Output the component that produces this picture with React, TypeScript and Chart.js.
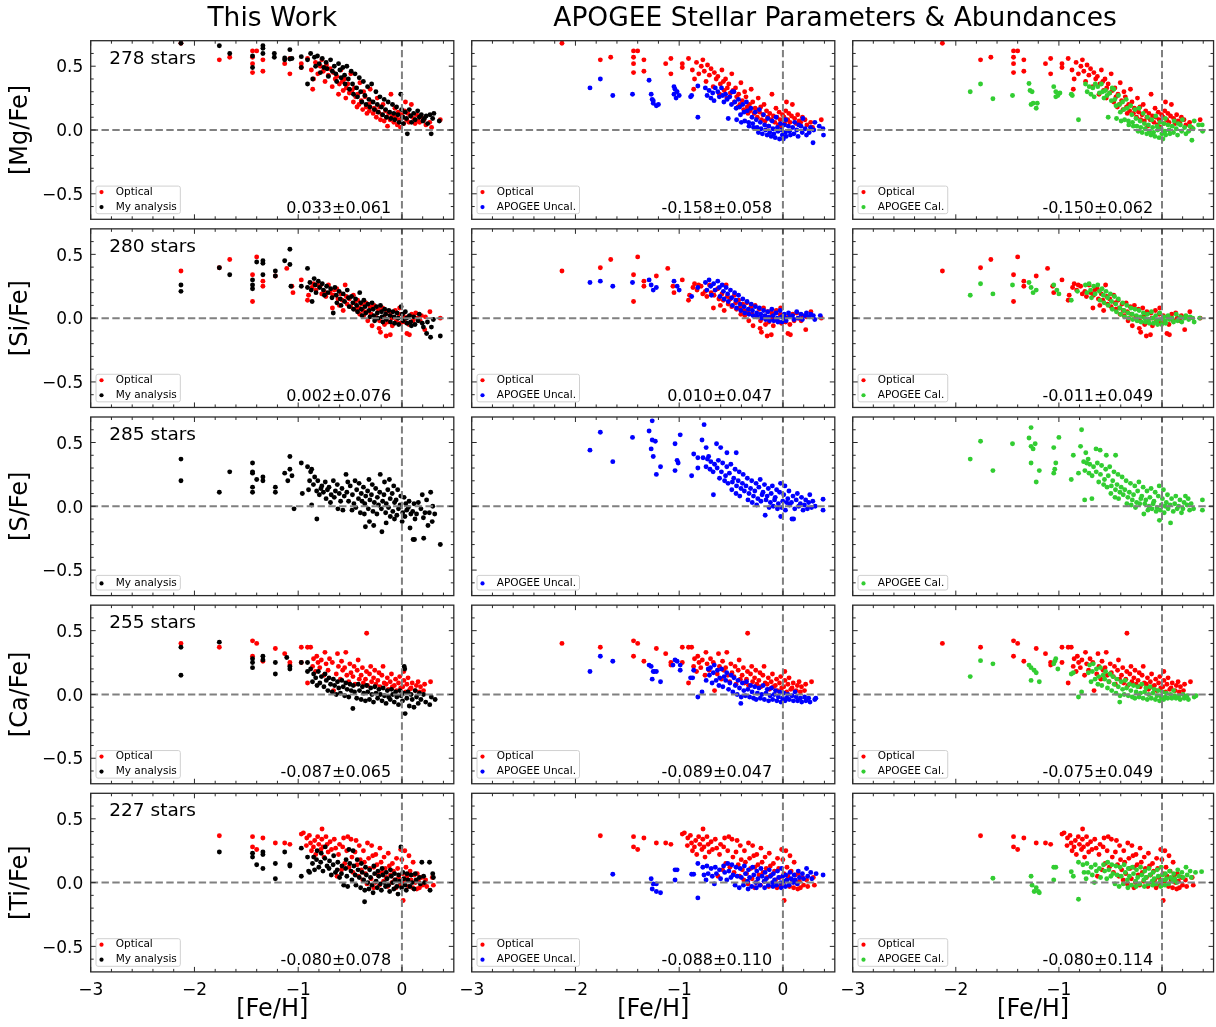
import React, { useEffect, useRef } from "react";
import { Chart, registerables } from "chart.js";
Chart.register(...registerables);

type Pt = [number, number]; // [Fe/H], [X/Fe]

// ---------- tick / label data ----------
const FEH_MAJOR_TICKS = [-3, -2, -1, 0];
const FEH_MINOR_TICKS = [-2.8, -2.6, -2.4, -2.2, -1.8, -1.6, -1.4, -1.2, -0.8, -0.6, -0.4, -0.2, 0.2, 0.4];
const ABUND_MAJOR_TICKS = [-0.5, 0, 0.5];
const ABUND_MINOR_TICKS = [-0.6, -0.4, -0.3, -0.2, -0.1, 0.1, 0.2, 0.3, 0.4, 0.6];
const ELEMENT_LABELS = ["[Mg/Fe]", "[Si/Fe]", "[S/Fe]", "[Ca/Fe]", "[Ti/Fe]"];
const STAR_COUNTS = [278, 280, 285, 255, 227];
const OFFSET_MINE = ["0.033±0.061", "0.002±0.076", "", "-0.087±0.065", "-0.080±0.078"];
const OFFSET_UNCAL = ["-0.158±0.058", "0.010±0.047", "", "-0.089±0.047", "-0.088±0.110"];
const OFFSET_CAL = ["-0.150±0.062", "-0.011±0.049", "", "-0.075±0.049", "-0.080±0.114"];
const COLUMN_TITLES = ["This Work", "APOGEE Stellar Parameters & Abundances"];

// ---------- [Mg/Fe] ----------
const MG_OPTICAL: Pt[] = [[-2.13,0.68],[-1.76,0.55],[-1.66,0.57],[-1.44,0.62],[-1.44,0.57],[-1.44,0.52],[-1.44,0.45],[-1.40,0.62],[-1.34,0.55],[-1.34,0.46],[-1.13,0.52],[-1.08,0.56],[-1.08,0.44],[-0.97,0.52],[-0.97,0.49],[-0.91,0.56],[-0.86,0.32],[-0.873,0.47],[-0.852,0.40],[-0.833,0.53],[-0.811,0.44],[-0.787,0.50],[-0.772,0.55],[-0.758,0.46],[-0.741,0.38],[-0.727,0.51],[-0.709,0.43],[-0.693,0.48],[-0.672,0.34],[-0.661,0.45],[-0.643,0.40],[-0.627,0.42],[-0.611,0.28],[-0.603,0.36],[-0.588,0.47],[-0.574,0.38],[-0.566,0.31],[-0.553,0.40],[-0.541,0.25],[-0.536,0.33],[-0.522,0.36],[-0.507,0.29],[-0.493,0.44],[-0.481,0.31],[-0.468,0.22],[-0.457,0.33],[-0.446,0.26],[-0.433,0.18],[-0.427,0.28],[-0.414,0.20],[-0.405,0.37],[-0.392,0.23],[-0.378,0.16],[-0.369,0.30],[-0.356,0.26],[-0.344,0.18],[-0.337,0.13],[-0.323,0.20],[-0.314,0.15],[-0.306,0.32],[-0.291,0.22],[-0.277,0.13],[-0.268,0.17],[-0.256,0.16],[-0.247,0.10],[-0.238,0.25],[-0.226,0.14],[-0.214,0.18],[-0.207,0.08],[-0.193,0.12],[-0.182,0.20],[-0.171,0.07],[-0.158,0.15],[-0.146,0.10],[-0.139,0.03],[-0.127,0.13],[-0.114,0.08],[-0.106,0.28],[-0.092,0.11],[-0.078,0.06],[-0.067,0.17],[-0.058,0.10],[-0.044,0.04],[-0.036,0.14],[-0.027,0.08],[-0.013,0.02],[-0.004,0.12],[0.011,0.10],[0.018,0.05],[0.027,0.15],[0.034,0.22],[0.046,0.08],[0.057,0.13],[0.068,0.06],[0.083,0.11],[0.091,0.20],[0.113,0.09],[0.127,0.05],[0.142,0.12],[0.156,0.07],[0.171,0.06],[0.188,0.10],[0.213,0.08],[0.231,0.04],[0.268,0.06],[0.286,0.02],[0.37,0.08]];
const MG_MINE: Pt[] = [[-2.13,0.68],[-1.76,0.66],[-1.66,0.60],[-1.44,0.58],[-1.44,0.49],[-1.34,0.66],[-1.34,0.64],[-1.34,0.60],[-1.23,0.60],[-1.23,0.57],[-1.13,0.565],[-1.13,0.55],[-1.08,0.63],[-1.08,0.556],[-1.06,0.56],[-0.97,0.575],[-0.97,0.49],[-0.91,0.55],[-0.91,0.36],[-0.88,0.60],[-0.86,0.40],[-0.843,0.57],[-0.832,0.50],[-0.814,0.58],[-0.797,0.52],[-0.786,0.45],[-0.768,0.56],[-0.753,0.49],[-0.731,0.53],[-0.722,0.48],[-0.709,0.42],[-0.688,0.55],[-0.671,0.46],[-0.652,0.50],[-0.637,0.44],[-0.629,0.38],[-0.611,0.52],[-0.598,0.47],[-0.586,0.41],[-0.569,0.49],[-0.553,0.43],[-0.548,0.36],[-0.531,0.50],[-0.517,0.40],[-0.506,0.32],[-0.489,0.46],[-0.476,0.36],[-0.467,0.28],[-0.452,0.44],[-0.437,0.33],[-0.428,0.26],[-0.411,0.41],[-0.397,0.30],[-0.386,0.22],[-0.372,0.38],[-0.357,0.27],[-0.346,0.20],[-0.331,0.34],[-0.318,0.24],[-0.309,0.18],[-0.292,0.36],[-0.278,0.22],[-0.266,0.16],[-0.251,0.30],[-0.238,0.20],[-0.229,0.14],[-0.212,0.26],[-0.197,0.18],[-0.186,0.12],[-0.171,0.24],[-0.158,0.16],[-0.149,0.10],[-0.133,0.22],[-0.118,0.14],[-0.107,0.09],[-0.091,0.20],[-0.078,0.13],[-0.069,0.08],[-0.052,0.18],[-0.038,0.12],[-0.027,0.06],[-0.011,0.28],[-0.003,0.16],[0.008,0.10],[0.014,0.05],[0.031,0.14],[0.043,0.09],[0.052,-0.03],[0.071,0.16],[0.084,0.11],[0.093,0.06],[0.113,0.13],[0.127,0.08],[0.152,0.15],[0.168,0.10],[0.187,0.12],[0.203,0.07],[0.216,0.09],[0.234,0.11],[0.248,0.05],[0.271,0.12],[0.282,-0.03],[0.296,0.09],[0.308,0.13],[0.36,0.07]];
const MG_UNCAL: Pt[] = [[-1.86,0.33],[-1.76,0.40],[-1.64,0.27],[-1.45,0.28],[-1.29,0.39],[-1.27,0.28],[-1.26,0.24],[-1.25,0.23],[-1.25,0.21],[-1.22,0.19],[-1.20,0.20],[-1.05,0.34],[-1.05,0.28],[-1.04,0.32],[-1.03,0.25],[-1.02,0.30],[-1.00,0.27],[-0.89,0.26],[-0.88,0.27],[-0.82,0.345],[-0.82,0.10],[-0.748,0.33],[-0.731,0.27],[-0.712,0.31],[-0.694,0.25],[-0.677,0.29],[-0.664,0.23],[-0.652,0.33],[-0.628,0.30],[-0.613,0.26],[-0.592,0.33],[-0.581,0.27],[-0.569,0.22],[-0.553,0.28],[-0.538,0.24],[-0.527,0.09],[-0.512,0.26],[-0.496,0.20],[-0.488,0.30],[-0.472,0.30],[-0.463,0.22],[-0.451,0.17],[-0.446,0.08],[-0.428,0.24],[-0.417,0.18],[-0.409,0.12],[-0.401,0.06],[-0.387,0.20],[-0.376,0.14],[-0.368,0.07],[-0.352,0.22],[-0.343,0.15],[-0.331,0.06],[-0.327,0.03],[-0.309,0.17],[-0.298,0.10],[-0.291,0.05],[-0.283,0.02],[-0.268,0.14],[-0.257,0.08],[-0.249,0.02],[-0.236,-0.02],[-0.227,0.16],[-0.218,0.06],[-0.211,0.01],[-0.198,-0.03],[-0.187,0.12],[-0.176,0.04],[-0.168,0.00],[-0.153,-0.04],[-0.147,0.09],[-0.136,0.03],[-0.127,-0.02],[-0.113,-0.05],[-0.104,0.07],[-0.096,0.01],[-0.087,-0.03],[-0.074,-0.06],[-0.066,0.10],[-0.053,0.02],[-0.047,-0.01],[-0.033,-0.07],[-0.024,0.05],[-0.013,0.00],[-0.006,-0.04],[0.004,-0.07],[0.013,0.04],[0.024,-0.02],[0.031,-0.05],[0.027,0.08],[0.053,0.03],[0.064,-0.01],[0.072,-0.04],[0.094,0.02],[0.106,-0.03],[0.113,0.06],[0.133,0.00],[0.146,-0.05],[0.152,0.04],[0.174,0.03],[0.186,-0.02],[0.193,0.09],[0.214,0.01],[0.227,-0.04],[0.253,-0.02],[0.266,0.02],[0.29,-0.10],[0.297,0.00],[0.308,0.06],[0.35,0.03],[0.386,0.01],[0.391,-0.04]];
const MG_CAL: Pt[] = [[-1.86,0.30],[-1.76,0.36],[-1.64,0.245],[-1.45,0.27],[-1.29,0.365],[-1.28,0.31],[-1.26,0.30],[-1.27,0.20],[-1.25,0.21],[-1.22,0.17],[-1.21,0.21],[-1.05,0.34],[-1.03,0.30],[-1.03,0.26],[-1.01,0.27],[-0.99,0.29],[-0.88,0.28],[-0.87,0.27],[-0.81,0.08],[-0.742,0.36],[-0.726,0.30],[-0.706,0.34],[-0.689,0.28],[-0.671,0.33],[-0.658,0.26],[-0.647,0.36],[-0.623,0.34],[-0.607,0.29],[-0.587,0.36],[-0.576,0.30],[-0.563,0.25],[-0.548,0.31],[-0.533,0.27],[-0.522,0.10],[-0.507,0.29],[-0.491,0.23],[-0.483,0.33],[-0.467,0.32],[-0.458,0.24],[-0.446,0.19],[-0.441,0.09],[-0.423,0.27],[-0.412,0.20],[-0.404,0.14],[-0.396,0.07],[-0.382,0.22],[-0.371,0.16],[-0.363,0.08],[-0.347,0.24],[-0.338,0.17],[-0.326,0.07],[-0.322,0.04],[-0.304,0.19],[-0.293,0.12],[-0.286,0.06],[-0.278,0.03],[-0.263,0.16],[-0.252,0.09],[-0.244,0.03],[-0.231,-0.01],[-0.222,0.17],[-0.213,0.07],[-0.206,0.02],[-0.193,-0.02],[-0.182,0.13],[-0.171,0.05],[-0.163,0.01],[-0.148,-0.03],[-0.142,0.10],[-0.131,0.04],[-0.122,-0.01],[-0.108,-0.04],[-0.099,0.08],[-0.091,0.02],[-0.082,-0.02],[-0.069,-0.05],[-0.061,0.11],[-0.048,0.03],[-0.042,0.00],[-0.028,-0.06],[-0.019,0.06],[-0.008,0.01],[-0.001,-0.03],[0.009,-0.07],[0.018,0.05],[0.029,-0.01],[0.036,-0.04],[0.032,0.09],[0.058,0.04],[0.069,0.00],[0.077,-0.03],[0.099,0.03],[0.111,-0.02],[0.118,0.07],[0.138,0.01],[0.151,-0.04],[0.157,0.05],[0.179,0.04],[0.191,-0.01],[0.198,0.08],[0.219,0.02],[0.232,-0.03],[0.258,-0.01],[0.271,0.03],[0.29,-0.08],[0.302,0.01],[0.313,0.07],[0.355,0.04],[0.39,0.04],[0.394,-0.01]];

// ---------- [Si/Fe] ----------
const SI_OPTICAL: Pt[] = [[-2.13,0.37],[-1.76,0.395],[-1.66,0.46],[-1.44,0.34],[-1.44,0.13],[-1.40,0.48],[-1.34,0.29],[-1.34,0.25],[-1.22,0.33],[-1.11,0.39],[-1.06,0.25],[-1.05,0.20],[-0.97,0.30],[-0.91,0.14],[-0.90,0.18],[-0.867,0.24],[-0.852,0.27],[-0.828,0.22],[-0.813,0.26],[-0.789,0.25],[-0.773,0.19],[-0.748,0.21],[-0.733,0.17],[-0.708,0.26],[-0.692,0.20],[-0.67,0.08],[-0.664,0.18],[-0.652,0.22],[-0.628,0.23],[-0.617,0.15],[-0.603,0.10],[-0.588,0.19],[-0.574,0.14],[-0.566,0.06],[-0.547,0.26],[-0.536,0.17],[-0.528,0.11],[-0.507,0.15],[-0.493,0.09],[-0.468,0.18],[-0.456,0.12],[-0.447,0.07],[-0.427,0.14],[-0.414,0.08],[-0.406,0.03],[-0.388,0.11],[-0.376,0.06],[-0.368,0.02],[-0.348,0.12],[-0.337,0.05],[-0.329,-0.02],[-0.308,0.09],[-0.297,0.03],[-0.288,-0.06],[-0.268,0.10],[-0.254,0.01],[-0.22,-0.08],[-0.228,0.07],[-0.216,-0.02],[-0.207,-0.11],[-0.187,0.08],[-0.176,0.01],[-0.168,-0.05],[-0.147,0.05],[-0.136,-0.03],[-0.152,-0.14],[-0.107,0.04],[-0.098,0.00],[-0.093,-0.06],[-0.112,-0.13],[-0.064,0.06],[-0.053,-0.02],[-0.027,0.03],[-0.014,-0.04],[-0.022,0.08],[0.013,0.02],[0.026,-0.03],[0.048,-0.12],[0.058,0.01],[0.067,-0.05],[0.072,-0.13],[0.094,0.03],[0.108,-0.02],[0.133,0.04],[0.147,0.00],[0.176,-0.02],[0.188,0.02],[0.22,-0.09],[0.226,0.01],[0.27,0.05],[0.37,0.00]];
const SI_MINE: Pt[] = [[-2.13,0.26],[-2.13,0.21],[-1.76,0.395],[-1.66,0.34],[-1.44,0.30],[-1.44,0.26],[-1.44,0.23],[-1.40,0.44],[-1.34,0.45],[-1.34,0.43],[-1.34,0.34],[-1.22,0.37],[-1.22,0.33],[-1.13,0.45],[-1.08,0.54],[-1.08,0.42],[-1.07,0.25],[-0.97,0.25],[-0.91,0.39],[-0.91,0.24],[-0.887,0.28],[-0.874,0.22],[-0.866,0.13],[-0.846,0.31],[-0.836,0.26],[-0.828,0.20],[-0.806,0.29],[-0.793,0.24],[-0.768,0.27],[-0.757,0.22],[-0.747,0.18],[-0.726,0.25],[-0.713,0.20],[-0.687,0.23],[-0.674,0.16],[-0.662,0.04],[-0.646,0.24],[-0.633,0.18],[-0.627,0.12],[-0.606,0.21],[-0.594,0.15],[-0.587,0.10],[-0.566,0.19],[-0.553,0.13],[-0.527,0.22],[-0.516,0.16],[-0.508,0.09],[-0.486,0.17],[-0.473,0.12],[-0.466,0.07],[-0.447,0.15],[-0.436,0.10],[-0.428,0.05],[-0.407,0.20],[-0.398,0.12],[-0.391,0.07],[-0.384,0.02],[-0.367,0.14],[-0.356,0.09],[-0.348,0.04],[-0.327,0.11],[-0.316,0.06],[-0.308,0.01],[-0.288,0.12],[-0.277,0.07],[-0.271,0.02],[-0.263,-0.02],[-0.246,0.09],[-0.237,0.04],[-0.231,0.00],[-0.207,0.10],[-0.197,0.05],[-0.191,0.01],[-0.184,-0.03],[-0.166,0.07],[-0.157,0.03],[-0.151,-0.01],[-0.126,0.06],[-0.116,0.02],[-0.111,-0.03],[-0.087,0.05],[-0.076,0.01],[-0.071,-0.04],[-0.047,0.04],[-0.036,0.00],[-0.031,-0.05],[-0.008,0.09],[0.004,0.03],[0.011,-0.02],[0.033,0.05],[0.044,0.00],[0.049,-0.04],[0.073,0.02],[0.084,-0.03],[0.091,-0.06],[0.114,0.01],[0.126,-0.05],[0.156,-0.02],[0.167,0.03],[0.196,-0.04],[0.207,-0.07],[0.238,-0.12],[0.246,-0.03],[0.276,-0.15],[0.284,-0.07],[0.303,-0.01],[0.37,-0.14]];
const SI_UNCAL: Pt[] = [[-1.86,0.28],[-1.76,0.29],[-1.64,0.25],[-1.45,0.28],[-1.29,0.30],[-1.27,0.26],[-1.25,0.22],[-1.22,0.24],[-1.05,0.29],[-1.02,0.25],[-1.00,0.22],[-0.88,0.17],[-0.82,0.24],[-0.747,0.28],[-0.733,0.22],[-0.712,0.30],[-0.697,0.25],[-0.689,0.18],[-0.668,0.27],[-0.654,0.22],[-0.628,0.29],[-0.613,0.24],[-0.607,0.17],[-0.586,0.26],[-0.574,0.21],[-0.567,0.15],[-0.548,0.24],[-0.533,0.19],[-0.527,0.13],[-0.506,0.22],[-0.494,0.16],[-0.487,0.10],[-0.466,0.20],[-0.453,0.14],[-0.447,0.08],[-0.428,0.18],[-0.414,0.11],[-0.406,0.06],[-0.387,0.15],[-0.374,0.09],[-0.368,0.04],[-0.346,0.13],[-0.334,0.07],[-0.327,0.03],[-0.306,0.11],[-0.294,0.06],[-0.288,0.02],[-0.266,0.09],[-0.253,0.04],[-0.247,0.01],[-0.227,0.08],[-0.214,0.03],[-0.208,0.00],[-0.186,0.06],[-0.173,0.02],[-0.167,-0.01],[-0.146,0.05],[-0.134,0.01],[-0.128,-0.02],[-0.107,0.07],[-0.094,0.02],[-0.088,-0.02],[-0.066,0.04],[-0.054,0.00],[-0.048,-0.03],[-0.027,0.06],[-0.014,0.01],[-0.008,-0.03],[0.013,0.03],[0.026,0.00],[0.031,-0.02],[0.054,0.04],[0.067,0.01],[0.093,0.02],[0.107,-0.01],[0.133,0.05],[0.146,0.00],[0.174,0.03],[0.187,-0.01],[0.213,0.02],[0.227,0.04],[0.254,0.01],[0.268,0.03],[0.293,0.02],[0.307,-0.01],[0.36,0.02]];
const SI_CAL: Pt[] = [[-1.86,0.18],[-1.76,0.27],[-1.64,0.19],[-1.45,0.26],[-1.29,0.28],[-1.27,0.24],[-1.25,0.20],[-1.22,0.22],[-1.05,0.26],[-1.02,0.22],[-1.00,0.19],[-0.88,0.14],[-0.82,0.21],[-0.743,0.26],[-0.728,0.20],[-0.707,0.27],[-0.693,0.22],[-0.684,0.16],[-0.663,0.25],[-0.649,0.19],[-0.623,0.26],[-0.608,0.21],[-0.602,0.14],[-0.581,0.23],[-0.569,0.18],[-0.562,0.12],[-0.543,0.21],[-0.528,0.16],[-0.522,0.10],[-0.501,0.19],[-0.489,0.13],[-0.482,0.07],[-0.461,0.17],[-0.448,0.11],[-0.442,0.05],[-0.423,0.15],[-0.409,0.08],[-0.401,0.03],[-0.382,0.12],[-0.369,0.06],[-0.363,0.01],[-0.341,0.10],[-0.329,0.04],[-0.322,0.00],[-0.301,0.08],[-0.289,0.03],[-0.283,-0.01],[-0.261,0.07],[-0.248,0.02],[-0.242,-0.02],[-0.222,0.06],[-0.209,0.01],[-0.203,-0.03],[-0.181,0.04],[-0.168,0.00],[-0.162,-0.03],[-0.141,0.03],[-0.129,-0.01],[-0.123,-0.04],[-0.102,0.05],[-0.089,0.00],[-0.083,-0.04],[-0.061,0.02],[-0.049,-0.02],[-0.043,-0.05],[-0.022,0.04],[-0.009,-0.01],[-0.003,-0.05],[0.018,0.01],[0.031,-0.02],[0.036,-0.04],[0.059,0.02],[0.072,-0.01],[0.098,0.00],[0.112,-0.03],[0.138,0.03],[0.151,-0.02],[0.179,0.01],[0.192,-0.03],[0.218,0.00],[0.232,0.02],[0.259,-0.01],[0.273,0.01],[0.298,0.00],[0.312,-0.03],[0.365,0.00]];

// ---------- [S/Fe] ----------
const S_MINE: Pt[] = [[-2.13,0.37],[-2.13,0.20],[-1.76,0.11],[-1.66,0.27],[-1.44,0.34],[-1.44,0.27],[-1.44,0.26],[-1.44,0.15],[-1.44,0.11],[-1.40,0.21],[-1.34,0.23],[-1.34,0.20],[-1.22,0.15],[-1.22,0.11],[-1.13,0.26],[-1.10,0.20],[-1.08,0.39],[-1.08,0.29],[-1.06,0.24],[-1.04,-0.02],[-0.97,0.34],[-0.96,0.10],[-0.91,0.31],[-0.90,0.13],[-0.89,0.20],[-0.88,0.27],[-0.87,0.29],[-0.87,0.01],[-0.82,-0.10],[-0.853,0.17],[-0.841,0.23],[-0.822,0.12],[-0.811,0.20],[-0.796,0.09],[-0.781,0.14],[-0.772,0.16],[-0.757,0.11],[-0.739,0.19],[-0.731,0.06],[-0.718,0.13],[-0.703,0.15],[-0.689,0.03],[-0.682,0.09],[-0.661,0.20],[-0.652,0.07],[-0.641,0.12],[-0.623,0.17],[-0.617,-0.02],[-0.604,0.10],[-0.591,0.04],[-0.578,0.14],[-0.569,-0.03],[-0.556,0.08],[-0.539,0.25],[-0.531,0.11],[-0.522,0.19],[-0.514,0.04],[-0.498,0.16],[-0.481,-0.03],[-0.477,0.09],[-0.463,0.02],[-0.452,0.20],[-0.444,-0.01],[-0.436,0.13],[-0.419,0.06],[-0.413,0.18],[-0.401,-0.05],[-0.392,0.10],[-0.384,0.04],[-0.371,0.15],[-0.362,-0.06],[-0.358,0.02],[-0.349,0.08],[-0.352,-0.16],[-0.331,0.12],[-0.324,-0.02],[-0.318,0.21],[-0.309,0.05],[-0.313,-0.12],[-0.294,0.09],[-0.286,0.17],[-0.279,-0.04],[-0.266,0.03],[-0.272,-0.15],[-0.253,0.14],[-0.241,-0.06],[-0.237,0.07],[-0.226,0.01],[-0.214,0.11],[-0.209,0.25],[-0.198,-0.02],[-0.186,0.04],[-0.193,-0.20],[-0.173,0.09],[-0.168,0.19],[-0.157,-0.05],[-0.151,0.02],[-0.152,-0.13],[-0.136,0.13],[-0.129,-0.01],[-0.121,0.21],[-0.113,0.06],[-0.112,-0.08],[-0.094,0.10],[-0.088,-0.04],[-0.079,0.16],[-0.071,0.03],[-0.072,-0.10],[-0.056,0.05],[-0.049,-0.07],[-0.041,0.13],[-0.033,-0.02],[-0.017,0.01],[-0.011,0.08],[0.002,-0.12],[0.008,-0.05],[0.021,0.07],[0.029,-0.08],[0.037,0.02],[0.046,-0.03],[0.062,-0.01],[0.069,0.04],[0.078,-0.17],[0.086,-0.06],[0.104,-0.04],[0.117,0.02],[0.126,-0.10],[0.108,-0.26],[0.141,-0.06],[0.158,0.03],[0.121,-0.26],[0.183,-0.02],[0.196,0.09],[0.207,-0.09],[0.222,-0.05],[0.238,0.05],[0.251,-0.15],[0.21,-0.25],[0.264,-0.05],[0.277,0.11],[0.292,-0.12],[0.297,0.00],[0.316,-0.06],[0.37,-0.30]];
const S_UNCAL: Pt[] = [[-1.86,0.44],[-1.76,0.58],[-1.64,0.35],[-1.45,0.54],[-1.29,0.59],[-1.27,0.45],[-1.26,0.67],[-1.26,0.52],[-1.25,0.39],[-1.23,0.51],[-1.22,0.25],[-1.18,0.31],[-1.04,0.49],[-1.04,0.28],[-1.02,0.36],[-1.01,0.34],[-0.99,0.56],[-0.88,0.24],[-0.86,0.41],[-0.82,0.38],[-0.82,0.30],[-0.78,0.52],[-0.77,0.38],[-0.76,0.64],[-0.74,0.46],[-0.67,0.09],[-0.64,0.49],[-0.60,0.46],[-0.54,0.42],[-0.45,0.42],[-0.741,0.31],[-0.728,0.37],[-0.716,0.39],[-0.703,0.29],[-0.695,0.35],[-0.673,0.27],[-0.659,0.33],[-0.634,0.30],[-0.622,0.36],[-0.611,0.22],[-0.593,0.27],[-0.581,0.34],[-0.562,0.20],[-0.553,0.24],[-0.541,0.31],[-0.529,0.18],[-0.516,0.26],[-0.502,0.33],[-0.493,0.13],[-0.487,0.19],[-0.474,0.22],[-0.461,0.29],[-0.452,0.10],[-0.447,0.16],[-0.431,0.20],[-0.422,0.27],[-0.416,0.08],[-0.404,0.14],[-0.391,0.18],[-0.383,0.25],[-0.372,0.12],[-0.356,0.16],[-0.343,0.22],[-0.337,0.05],[-0.327,0.10],[-0.312,0.14],[-0.301,0.20],[-0.296,0.03],[-0.284,0.08],[-0.271,0.12],[-0.259,0.18],[-0.253,0.01],[-0.242,0.06],[-0.232,0.15],[-0.219,0.21],[-0.212,0.04],[-0.201,0.09],[-0.192,0.11],[-0.178,0.17],[-0.171,-0.07],[-0.163,0.05],[-0.152,0.08],[-0.141,0.14],[-0.133,-0.01],[-0.121,0.03],[-0.113,0.10],[-0.102,0.16],[-0.093,0.00],[-0.081,0.05],[-0.074,0.07],[-0.061,0.13],[-0.053,-0.02],[-0.044,0.02],[-0.032,0.11],[-0.023,0.18],[-0.021,-0.08],[-0.012,-0.01],[-0.002,0.04],[0.008,0.09],[0.019,0.16],[0.024,-0.03],[0.036,0.03],[0.047,0.06],[0.058,0.12],[0.064,0.01],[0.087,-0.10],[0.082,0.03],[0.097,0.08],[0.103,-0.10],[0.114,-0.02],[0.128,0.05],[0.139,0.10],[0.152,0.00],[0.168,0.02],[0.179,0.07],[0.194,-0.03],[0.207,0.01],[0.219,0.05],[0.236,-0.02],[0.248,0.03],[0.259,0.09],[0.276,-0.01],[0.288,0.04],[0.311,0.00],[0.387,0.055],[0.387,-0.03]];
const S_CAL: Pt[] = [[-1.86,0.37],[-1.76,0.51],[-1.64,0.28],[-1.45,0.49],[-1.29,0.535],[-1.27,0.617],[-1.27,0.47],[-1.27,0.34],[-1.25,0.45],[-1.23,0.49],[-1.22,0.19],[-1.19,0.28],[-1.05,0.46],[-1.05,0.26],[-1.04,0.29],[-1.03,0.34],[-1.00,0.54],[-0.88,0.21],[-0.86,0.40],[-0.81,0.26],[-0.79,0.47],[-0.78,0.60],[-0.76,0.35],[-0.75,0.05],[-0.68,0.06],[-0.64,0.45],[-0.60,0.44],[-0.54,0.40],[-0.45,0.40],[-0.748,0.28],[-0.739,0.42],[-0.731,0.34],[-0.716,0.37],[-0.708,0.26],[-0.701,0.33],[-0.678,0.24],[-0.664,0.31],[-0.638,0.27],[-0.627,0.34],[-0.614,0.19],[-0.597,0.25],[-0.586,0.32],[-0.566,0.17],[-0.558,0.21],[-0.546,0.29],[-0.533,0.15],[-0.521,0.24],[-0.507,0.31],[-0.496,0.10],[-0.491,0.16],[-0.478,0.20],[-0.466,0.27],[-0.456,0.07],[-0.451,0.13],[-0.436,0.17],[-0.427,0.25],[-0.421,0.06],[-0.408,0.11],[-0.396,0.15],[-0.387,0.23],[-0.376,0.09],[-0.361,0.13],[-0.348,0.20],[-0.341,0.02],[-0.331,0.07],[-0.317,0.11],[-0.306,0.18],[-0.299,0.01],[-0.288,0.05],[-0.276,0.09],[-0.264,0.16],[-0.257,-0.01],[-0.246,0.03],[-0.236,0.12],[-0.224,0.19],[-0.216,0.02],[-0.205,0.06],[-0.196,0.08],[-0.183,0.15],[-0.176,-0.06],[-0.167,0.02],[-0.157,0.05],[-0.146,0.12],[-0.137,-0.03],[-0.126,0.00],[-0.117,0.07],[-0.106,0.14],[-0.097,-0.02],[-0.086,0.02],[-0.078,0.04],[-0.066,0.11],[-0.057,-0.04],[-0.048,-0.01],[-0.036,0.08],[-0.027,0.16],[-0.025,-0.11],[-0.016,-0.03],[-0.006,0.01],[0.004,0.06],[0.014,0.13],[0.021,-0.05],[0.031,0.00],[0.042,0.03],[0.053,0.09],[0.059,-0.02],[0.083,-0.13],[0.078,0.01],[0.093,0.06],[0.109,-0.04],[0.123,0.02],[0.134,0.08],[0.147,-0.02],[0.162,0.00],[0.174,0.05],[0.189,-0.05],[0.203,-0.02],[0.214,0.03],[0.227,0.08],[0.243,0.01],[0.254,0.06],[0.268,-0.03],[0.283,0.02],[0.306,-0.02],[0.392,0.05],[0.392,-0.03]];

// ---------- [Ca/Fe] ----------
const CA_OPTICAL: Pt[] = [[-2.13,0.40],[-1.76,0.37],[-1.44,0.42],[-1.44,0.30],[-1.40,0.40],[-1.34,0.26],[-1.22,0.36],[-1.13,0.32],[-1.08,0.25],[-1.08,0.23],[-0.97,0.37],[-0.97,0.25],[-0.91,0.37],[-0.91,0.09],[-0.88,0.37],[-0.34,0.48],[-0.861,0.22],[-0.852,0.28],[-0.833,0.18],[-0.821,0.30],[-0.809,0.25],[-0.792,0.21],[-0.777,0.27],[-0.751,0.15],[-0.742,0.33],[-0.731,0.24],[-0.712,0.19],[-0.698,0.28],[-0.671,0.25],[-0.659,0.03],[-0.633,0.16],[-0.621,0.32],[-0.612,0.22],[-0.593,0.12],[-0.582,0.26],[-0.571,0.19],[-0.552,0.21],[-0.541,0.33],[-0.531,0.15],[-0.513,0.10],[-0.502,0.24],[-0.491,0.17],[-0.472,0.14],[-0.461,0.22],[-0.452,0.08],[-0.431,0.19],[-0.422,0.27],[-0.411,0.12],[-0.393,0.15],[-0.381,0.21],[-0.372,0.09],[-0.351,0.12],[-0.342,0.18],[-0.331,0.07],[-0.312,0.16],[-0.301,0.22],[-0.292,0.10],[-0.273,0.13],[-0.262,0.19],[-0.251,0.08],[-0.232,0.11],[-0.221,0.17],[-0.212,0.06],[-0.193,0.15],[-0.182,0.22],[-0.171,0.09],[-0.152,0.08],[-0.141,0.13],[-0.131,0.04],[-0.113,0.10],[-0.101,0.16],[-0.092,0.06],[-0.073,0.07],[-0.061,0.12],[-0.052,0.03],[-0.033,0.09],[-0.021,0.14],[-0.012,0.05],[0.008,0.06],[0.019,0.11],[0.036,0.02],[0.018,0.18],[0.048,0.08],[0.059,0.13],[0.076,0.04],[0.088,0.05],[0.099,0.09],[0.128,0.03],[0.139,0.07],[0.156,0.10],[0.168,0.02],[0.179,0.06],[0.208,0.03],[0.219,0.08],[0.276,0.10]];
const CA_MINE: Pt[] = [[-2.13,0.37],[-2.13,0.15],[-1.76,0.41],[-1.44,0.28],[-1.44,0.25],[-1.44,0.21],[-1.34,0.30],[-1.34,0.27],[-1.22,0.25],[-1.22,0.16],[-1.11,0.29],[-1.08,0.22],[-1.08,0.20],[-0.97,0.25],[-0.91,0.25],[-0.91,0.18],[-0.88,0.20],[-0.862,0.10],[-0.851,0.16],[-0.831,0.13],[-0.818,0.07],[-0.806,0.18],[-0.791,0.09],[-0.776,0.14],[-0.752,0.06],[-0.741,0.16],[-0.729,0.11],[-0.714,0.03],[-0.703,0.13],[-0.688,0.08],[-0.672,0.02],[-0.661,0.12],[-0.649,0.07],[-0.633,0.00],[-0.621,0.10],[-0.609,0.05],[-0.593,0.01],[-0.579,0.11],[-0.566,0.06],[-0.552,-0.01],[-0.541,0.09],[-0.528,0.04],[-0.512,-0.02],[-0.501,0.08],[-0.489,0.03],[-0.473,-0.11],[-0.469,0.07],[-0.457,0.02],[-0.436,-0.03],[-0.421,0.08],[-0.409,0.03],[-0.393,-0.04],[-0.381,0.06],[-0.368,0.01],[-0.352,-0.05],[-0.341,0.07],[-0.329,0.02],[-0.313,-0.04],[-0.301,0.05],[-0.289,0.00],[-0.274,-0.06],[-0.261,0.06],[-0.249,0.01],[-0.234,-0.03],[-0.221,0.04],[-0.208,0.00],[-0.192,-0.05],[-0.181,0.05],[-0.169,-0.01],[-0.153,-0.07],[-0.141,0.03],[-0.128,-0.02],[-0.113,-0.04],[-0.101,0.04],[-0.089,0.00],[-0.074,-0.06],[-0.061,0.02],[-0.049,-0.02],[-0.033,-0.08],[-0.021,0.03],[-0.008,-0.01],[0.022,0.22],[0.027,0.20],[0.006,-0.05],[0.019,0.01],[0.031,-0.15],[0.047,-0.03],[0.058,0.02],[0.071,-0.09],[0.088,0.00],[0.099,-0.04],[0.116,-0.10],[0.128,0.03],[0.141,-0.02],[0.157,-0.07],[0.169,0.01],[0.183,-0.04],[0.208,0.00],[0.229,-0.06],[0.268,-0.08],[0.283,-0.02],[0.32,-0.04]];
const CA_UNCAL: Pt[] = [[-1.86,0.18],[-1.76,0.30],[-1.64,0.26],[-1.29,0.23],[-1.27,0.22],[-1.26,0.12],[-1.25,0.18],[-1.24,0.18],[-1.22,0.18],[-1.18,0.10],[-1.06,0.23],[-1.04,0.27],[-1.02,0.26],[-0.99,0.23],[-0.99,0.19],[-0.89,0.13],[-0.87,0.13],[-0.86,0.19],[-0.82,-0.02],[-0.78,0.02],[-0.74,0.11],[-0.72,0.20],[-0.709,0.15],[-0.698,0.21],[-0.683,0.09],[-0.671,0.17],[-0.662,0.23],[-0.644,0.11],[-0.631,0.19],[-0.617,0.07],[-0.609,0.13],[-0.592,0.20],[-0.579,0.06],[-0.566,0.14],[-0.551,0.11],[-0.542,0.17],[-0.524,0.04],[-0.511,0.09],[-0.499,0.15],[-0.483,0.02],[-0.472,0.13],[-0.459,0.07],[-0.441,0.00],[-0.433,0.11],[-0.419,0.05],[-0.406,-0.07],[-0.402,-0.02],[-0.391,0.09],[-0.377,0.03],[-0.362,-0.01],[-0.351,0.10],[-0.338,0.04],[-0.322,-0.02],[-0.311,0.07],[-0.297,0.02],[-0.283,-0.03],[-0.272,0.06],[-0.258,-0.04],[-0.246,0.01],[-0.231,0.05],[-0.218,-0.03],[-0.204,0.00],[-0.191,0.07],[-0.179,-0.04],[-0.163,0.01],[-0.151,0.04],[-0.138,-0.05],[-0.124,-0.01],[-0.111,0.05],[-0.099,-0.04],[-0.084,0.00],[-0.071,0.03],[-0.059,-0.05],[-0.044,-0.02],[-0.031,0.02],[-0.019,-0.06],[-0.004,-0.03],[0.009,0.01],[0.021,-0.05],[0.036,-0.03],[0.048,0.00],[0.061,-0.04],[0.088,-0.01],[0.101,-0.05],[0.117,0.02],[0.128,-0.02],[0.141,-0.05],[0.168,-0.03],[0.181,-0.06],[0.209,-0.02],[0.221,-0.05],[0.248,-0.03],[0.261,-0.06],[0.307,-0.04],[0.317,-0.03]];
const CA_CAL: Pt[] = [[-1.86,0.14],[-1.76,0.265],[-1.64,0.24],[-1.29,0.23],[-1.27,0.21],[-1.27,0.11],[-1.24,0.19],[-1.22,0.17],[-1.19,0.10],[-1.05,0.24],[-1.04,0.26],[-1.03,0.28],[-1.01,0.20],[-0.88,0.16],[-0.86,0.17],[-0.81,-0.02],[-0.78,0.02],[-0.714,0.17],[-0.703,0.23],[-0.688,0.10],[-0.676,0.18],[-0.667,0.24],[-0.649,0.12],[-0.636,0.20],[-0.622,0.08],[-0.614,0.14],[-0.597,0.21],[-0.584,0.07],[-0.571,0.15],[-0.556,0.12],[-0.547,0.18],[-0.529,0.05],[-0.516,0.10],[-0.504,0.16],[-0.488,0.03],[-0.477,0.14],[-0.464,0.08],[-0.446,0.01],[-0.438,0.12],[-0.424,0.06],[-0.41,-0.06],[-0.407,-0.01],[-0.396,0.10],[-0.382,0.04],[-0.367,0.00],[-0.356,0.11],[-0.343,0.05],[-0.327,-0.01],[-0.316,0.08],[-0.302,0.03],[-0.288,-0.02],[-0.277,0.07],[-0.263,-0.03],[-0.251,0.02],[-0.236,0.06],[-0.223,-0.02],[-0.209,0.01],[-0.196,0.08],[-0.184,-0.03],[-0.168,0.02],[-0.156,0.05],[-0.143,-0.04],[-0.129,0.00],[-0.116,0.06],[-0.104,-0.03],[-0.089,0.01],[-0.076,0.04],[-0.064,-0.04],[-0.049,-0.01],[-0.036,0.03],[-0.024,-0.05],[-0.009,-0.02],[0.004,0.02],[0.016,-0.04],[0.031,-0.02],[0.043,0.01],[0.056,-0.03],[0.083,0.00],[0.096,-0.03],[0.112,0.03],[0.123,-0.01],[0.136,-0.03],[0.163,-0.01],[0.176,-0.04],[0.204,0.00],[0.216,-0.03],[0.243,-0.01],[0.256,-0.04],[0.312,-0.02],[0.33,-0.01]];

// ---------- [Ti/Fe] ----------
const TI_OPTICAL: Pt[] = [[-1.76,0.367],[-1.44,0.36],[-1.44,0.28],[-1.40,0.26],[-1.34,0.35],[-1.22,0.31],[-1.13,0.31],[-1.08,0.30],[-0.97,0.38],[-0.95,0.39],[-0.921,0.29],[-0.917,0.35],[-0.881,0.31],[-0.892,0.37],[-0.872,0.25],[-0.853,0.28],[-0.841,0.33],[-0.831,0.22],[-0.801,0.30],[-0.812,0.36],[-0.781,0.26],[-0.77,0.42],[-0.761,0.28],[-0.772,0.34],[-0.751,0.20],[-0.721,0.30],[-0.732,0.36],[-0.711,0.24],[-0.679,0.26],[-0.692,0.32],[-0.652,0.34],[-0.639,0.27],[-0.626,0.05],[-0.611,0.22],[-0.601,0.30],[-0.582,0.10],[-0.571,0.28],[-0.562,0.35],[-0.551,0.15],[-0.532,0.25],[-0.522,0.36],[-0.511,0.12],[-0.482,0.20],[-0.491,0.34],[-0.471,0.08],[-0.452,0.24],[-0.442,0.33],[-0.431,0.14],[-0.418,0.05],[-0.402,0.18],[-0.411,0.29],[-0.391,0.10],[-0.377,0.02],[-0.362,0.16],[-0.371,0.25],[-0.351,0.07],[-0.337,-0.01],[-0.321,0.19],[-0.332,0.31],[-0.311,0.11],[-0.297,0.03],[-0.281,0.21],[-0.292,0.29],[-0.271,0.12],[-0.258,0.00],[-0.272,-0.04],[-0.241,0.14],[-0.252,0.22],[-0.231,0.06],[-0.217,-0.02],[-0.201,0.16],[-0.212,0.27],[-0.191,0.08],[-0.177,0.01],[-0.161,0.11],[-0.172,0.20],[-0.151,0.04],[-0.137,-0.03],[-0.121,0.13],[-0.132,0.23],[-0.111,0.06],[-0.097,0.00],[-0.081,0.09],[-0.092,0.15],[-0.071,0.02],[-0.057,-0.04],[-0.041,0.11],[-0.052,0.19],[-0.031,0.04],[-0.017,-0.02],[-0.001,0.18],[-0.012,0.26],[0.009,0.07],[0.023,0.01],[0.039,0.12],[0.028,0.25],[0.049,0.05],[0.063,-0.03],[0.012,-0.14],[0.079,0.09],[0.068,0.21],[0.089,0.02],[0.103,-0.04],[0.119,0.06],[0.108,0.16],[0.129,0.00],[0.143,-0.05],[0.159,0.01],[0.148,0.07],[0.169,-0.04],[0.199,-0.02],[0.188,0.04],[0.239,-0.03],[0.228,0.02],[0.293,0.04],[0.303,-0.02]];
const TI_MINE: Pt[] = [[-1.76,0.24],[-1.44,0.23],[-1.44,0.20],[-1.40,0.14],[-1.34,0.24],[-1.34,0.22],[-1.34,0.11],[-1.22,0.15],[-1.22,0.03],[-1.13,0.24],[-1.08,0.14],[-1.08,0.13],[-0.97,0.27],[-0.97,0.05],[-0.91,0.20],[-0.90,0.09],[-0.89,0.08],[-0.862,0.15],[-0.851,0.20],[-0.842,0.10],[-0.823,0.18],[-0.817,0.25],[-0.801,0.12],[-0.783,0.16],[-0.778,0.23],[-0.761,0.09],[-0.743,0.19],[-0.739,0.28],[-0.722,0.13],[-0.703,0.11],[-0.698,0.17],[-0.681,0.06],[-0.663,0.14],[-0.658,0.21],[-0.641,0.08],[-0.623,0.10],[-0.618,0.16],[-0.601,0.04],[-0.583,0.07],[-0.578,0.13],[-0.561,-0.02],[-0.543,0.11],[-0.538,0.18],[-0.523,-0.03],[-0.531,0.05],[-0.503,0.15],[-0.511,0.26],[-0.482,0.02],[-0.491,0.09],[-0.463,0.13],[-0.471,0.25],[-0.443,-0.02],[-0.451,0.06],[-0.423,0.10],[-0.431,0.18],[-0.398,-0.04],[-0.411,0.04],[-0.383,0.08],[-0.391,0.15],[-0.358,-0.06],[-0.369,0.02],[-0.36,-0.15],[-0.343,0.06],[-0.351,0.12],[-0.318,-0.05],[-0.329,0.00],[-0.303,0.04],[-0.311,0.10],[-0.278,-0.08],[-0.289,-0.02],[-0.263,0.07],[-0.271,0.13],[-0.238,-0.04],[-0.249,0.01],[-0.223,0.05],[-0.231,0.09],[-0.198,-0.06],[-0.209,-0.01],[-0.183,0.06],[-0.191,0.11],[-0.158,-0.03],[-0.169,0.00],[-0.143,0.03],[-0.151,0.08],[-0.118,-0.07],[-0.129,-0.02],[-0.103,0.05],[-0.111,0.10],[-0.078,-0.05],[-0.089,0.00],[-0.063,0.02],[-0.071,0.07],[-0.038,-0.09],[-0.049,-0.03],[-0.023,0.01],[-0.031,0.06],[-0.003,-0.04],[-0.01,0.28],[0.018,0.03],[0.009,0.08],[0.042,-0.06],[0.031,-0.02],[0.058,0.02],[0.049,0.07],[0.077,-0.03],[0.098,0.00],[0.089,0.06],[0.117,-0.05],[0.138,0.02],[0.129,0.07],[0.178,-0.01],[0.169,0.04],[0.192,0.16],[0.218,0.00],[0.209,0.05],[0.266,0.16],[0.271,-0.06],[0.297,0.07],[0.303,0.04]];
const TI_UNCAL: Pt[] = [[-1.64,0.065],[-1.27,0.03],[-1.26,-0.05],[-1.25,-0.01],[-1.22,-0.01],[-1.22,-0.07],[-1.18,-0.08],[-1.04,0.10],[-1.04,0.02],[-1.02,0.10],[-0.88,0.065],[-0.86,0.065],[-0.82,-0.12],[-0.82,0.15],[-0.761,0.06],[-0.772,0.12],[-0.741,0.02],[-0.721,0.07],[-0.733,0.13],[-0.681,0.05],[-0.692,0.11],[-0.661,-0.01],[-0.641,0.07],[-0.652,0.12],[-0.601,0.03],[-0.612,0.10],[-0.561,0.08],[-0.572,0.13],[-0.541,0.02],[-0.521,0.09],[-0.532,0.15],[-0.501,0.04],[-0.481,0.06],[-0.492,0.14],[-0.461,-0.02],[-0.441,0.05],[-0.452,0.12],[-0.421,-0.04],[-0.401,0.04],[-0.412,0.11],[-0.381,-0.02],[-0.361,0.07],[-0.372,0.13],[-0.341,0.01],[-0.336,-0.05],[-0.321,0.04],[-0.332,0.10],[-0.301,-0.03],[-0.281,0.06],[-0.292,0.12],[-0.261,0.00],[-0.256,-0.04],[-0.241,0.03],[-0.252,0.09],[-0.221,-0.02],[-0.201,0.05],[-0.212,0.11],[-0.181,0.01],[-0.176,-0.04],[-0.161,0.03],[-0.172,0.08],[-0.141,-0.02],[-0.121,0.05],[-0.132,0.10],[-0.101,0.00],[-0.096,-0.03],[-0.081,0.02],[-0.092,0.07],[-0.061,-0.02],[-0.041,0.04],[-0.052,0.09],[-0.021,0.00],[-0.016,-0.04],[-0.001,0.05],[-0.012,0.11],[0.019,0.01],[0.024,-0.03],[0.039,0.02],[0.028,0.06],[0.059,-0.02],[0.079,0.03],[0.068,0.08],[0.099,0.00],[0.119,0.02],[0.108,0.06],[0.139,-0.01],[0.159,0.04],[0.148,0.09],[0.199,0.03],[0.188,0.07],[0.239,0.05],[0.228,0.11],[0.279,0.03],[0.268,0.08],[0.32,0.07],[0.387,0.06]];
const TI_CAL: Pt[] = [[-1.64,0.034],[-1.27,0.05],[-1.26,-0.02],[-1.24,-0.07],[-1.22,-0.04],[-1.20,-0.07],[-1.19,-0.08],[-1.05,0.12],[-1.05,0.02],[-1.03,0.12],[-0.88,0.085],[-0.86,0.05],[-0.81,-0.13],[-0.81,0.16],[-0.756,0.08],[-0.767,0.14],[-0.736,0.03],[-0.716,0.08],[-0.728,0.15],[-0.676,0.06],[-0.687,0.12],[-0.656,0.00],[-0.636,0.09],[-0.647,0.14],[-0.596,0.04],[-0.607,0.11],[-0.556,0.09],[-0.567,0.14],[-0.536,0.03],[-0.516,0.10],[-0.527,0.16],[-0.496,0.05],[-0.476,0.07],[-0.487,0.14],[-0.456,-0.01],[-0.436,0.06],[-0.447,0.13],[-0.416,-0.03],[-0.396,0.05],[-0.407,0.12],[-0.376,-0.01],[-0.356,0.08],[-0.367,0.14],[-0.336,0.02],[-0.331,-0.04],[-0.316,0.05],[-0.327,0.11],[-0.296,-0.02],[-0.276,0.07],[-0.287,0.12],[-0.256,0.01],[-0.251,-0.03],[-0.236,0.04],[-0.247,0.10],[-0.216,-0.01],[-0.196,0.06],[-0.207,0.12],[-0.176,0.02],[-0.171,-0.03],[-0.156,0.04],[-0.167,0.09],[-0.136,-0.01],[-0.116,0.06],[-0.127,0.11],[-0.096,0.01],[-0.091,-0.02],[-0.076,0.03],[-0.087,0.08],[-0.056,-0.01],[-0.036,0.05],[-0.047,0.10],[-0.016,0.01],[-0.011,-0.03],[0.004,0.06],[-0.007,0.12],[0.024,0.02],[0.029,-0.02],[0.044,0.03],[0.033,0.07],[0.064,-0.01],[0.084,0.04],[0.073,0.09],[0.104,0.01],[0.124,0.03],[0.113,0.07],[0.144,0.00],[0.164,0.05],[0.153,0.10],[0.204,0.04],[0.193,0.08],[0.244,0.06],[0.233,0.12],[0.284,0.04],[0.273,0.09],[0.325,0.08],[0.384,0.086]];

const OPTICAL_ROWS: (Pt[] | null)[] = [MG_OPTICAL, SI_OPTICAL, null, CA_OPTICAL, TI_OPTICAL];
const MINE_ROWS: Pt[][] = [MG_MINE, SI_MINE, S_MINE, CA_MINE, TI_MINE];
const UNCAL_ROWS: Pt[][] = [MG_UNCAL, SI_UNCAL, S_UNCAL, CA_UNCAL, TI_UNCAL];
const CAL_ROWS: Pt[][] = [MG_CAL, SI_CAL, S_CAL, CA_CAL, TI_CAL];

// ---------- layout / style ----------
const W = 1216;
const H = 1027;
const COL_LEFT = [90.7, 471.7, 852.7];
const PANEL_W = 363.1;
const ROW_TOP0 = 40.7;
const ROW_STEP = 188.15;
const PANEL_H = 178.6;
const FONT = '"DejaVu Sans", "Liberation Sans", sans-serif';
const RED = "#ff0000";
const BLACK = "#000000";
const BLUE = "#0000ff";
const GREEN = "#32cd32";

type PanelCfg = {
  row: number;
  col: number;
  second: { points: Pt[]; color: string; label: string };
  optical: Pt[] | null;
  offsetText: string;
};

function toPoints(pts: Pt[]) {
  return pts.map(([x, y]) => ({ x, y }));
}

function buildPanels(): PanelCfg[] {
  const panels: PanelCfg[] = [];
  for (let r = 0; r < 5; r++) {
    panels.push({ row: r, col: 0, second: { points: MINE_ROWS[r], color: BLACK, label: "My analysis" }, optical: OPTICAL_ROWS[r], offsetText: OFFSET_MINE[r] });
    panels.push({ row: r, col: 1, second: { points: UNCAL_ROWS[r], color: BLUE, label: "APOGEE Uncal." }, optical: OPTICAL_ROWS[r], offsetText: OFFSET_UNCAL[r] });
    panels.push({ row: r, col: 2, second: { points: CAL_ROWS[r], color: GREEN, label: "APOGEE Cal." }, optical: OPTICAL_ROWS[r], offsetText: OFFSET_CAL[r] });
  }
  return panels;
}

function makeDeco(p: PanelCfg) {
  return {
    id: "deco" + p.row + "_" + p.col,
    afterDatasetsDraw(chart: any) {
      const ctx: CanvasRenderingContext2D = chart.ctx;
      const a = chart.chartArea;
      const xs = chart.scales.x;
      const ys = chart.scales.y;
      const px = (v: number) => xs.getPixelForValue(v);
      const py = (v: number) => ys.getPixelForValue(v);
      ctx.save();

      // reference dashed lines
      ctx.strokeStyle = "#808080";
      ctx.lineWidth = 2;
      ctx.setLineDash([7.4, 3.4]);
      ctx.beginPath();
      ctx.moveTo(a.left, py(0));
      ctx.lineTo(a.right, py(0));
      ctx.stroke();
      ctx.beginPath();
      ctx.moveTo(px(0), a.bottom);
      ctx.lineTo(px(0), a.top);
      ctx.stroke();
      ctx.setLineDash([]);

      // legend
      const items: { label: string; color: string }[] = [];
      if (p.optical) items.push({ label: "Optical", color: RED });
      items.push({ label: p.second.label, color: p.second.color });
      ctx.font = `10.5px ${FONT}`;
      let maxW = 0;
      items.forEach((it) => (maxW = Math.max(maxW, ctx.measureText(it.label).width)));
      const boxL = a.left + 5.3;
      const boxB = a.bottom - 5.6;
      const boxH = items.length === 2 ? 27.6 : 14.6;
      const boxT = boxB - boxH;
      const boxW = 25 - 5.3 + maxW + 3.5;
      const rr = 2;
      ctx.beginPath();
      ctx.moveTo(boxL + rr, boxT);
      ctx.lineTo(boxL + boxW - rr, boxT);
      ctx.quadraticCurveTo(boxL + boxW, boxT, boxL + boxW, boxT + rr);
      ctx.lineTo(boxL + boxW, boxB - rr);
      ctx.quadraticCurveTo(boxL + boxW, boxB, boxL + boxW - rr, boxB);
      ctx.lineTo(boxL + rr, boxB);
      ctx.quadraticCurveTo(boxL, boxB, boxL, boxB - rr);
      ctx.lineTo(boxL, boxT + rr);
      ctx.quadraticCurveTo(boxL, boxT, boxL + rr, boxT);
      ctx.closePath();
      ctx.fillStyle = "rgba(255,255,255,0.8)";
      ctx.fill();
      ctx.strokeStyle = "#d0d0d0";
      ctx.lineWidth = 1;
      ctx.stroke();
      items.forEach((it, i) => {
        const cy = boxB - 6.6 - (items.length - 1 - i) * 15;
        ctx.fillStyle = it.color;
        ctx.beginPath();
        ctx.arc(a.left + 10.8, cy, 2.1, 0, Math.PI * 2);
        ctx.fill();
        ctx.fillStyle = "#000";
        ctx.textAlign = "left";
        ctx.textBaseline = "middle";
        ctx.fillText(it.label, a.left + 25, cy);
      });

      // star count
      if (p.col === 0) {
        ctx.font = `18.5px ${FONT}`;
        ctx.fillStyle = "#000";
        ctx.textAlign = "left";
        ctx.textBaseline = "alphabetic";
        ctx.fillText(`${STAR_COUNTS[p.row]} stars`, a.left + 18.6, a.top + 23);
      }
      // offset annotation
      if (p.offsetText) {
        ctx.font = `16px ${FONT}`;
        ctx.fillStyle = "#000";
        ctx.textAlign = "right";
        ctx.textBaseline = "alphabetic";
        ctx.fillText(p.offsetText, a.left + 300.5, a.bottom - 6.6);
      }

      // frame and inward ticks
      ctx.strokeStyle = "#2a2a2a";
      ctx.lineWidth = 1;
      const drawTick = (x1: number, y1: number, x2: number, y2: number) => {
        ctx.beginPath();
        ctx.moveTo(x1, y1);
        ctx.lineTo(x2, y2);
        ctx.stroke();
      };
      FEH_MAJOR_TICKS.forEach((v) => {
        const x = px(v);
        drawTick(x, a.bottom, x, a.bottom - 5);
        drawTick(x, a.top, x, a.top + 5);
      });
      FEH_MINOR_TICKS.forEach((v) => {
        const x = px(v);
        drawTick(x, a.bottom, x, a.bottom - 3);
        drawTick(x, a.top, x, a.top + 3);
      });
      ABUND_MAJOR_TICKS.forEach((v) => {
        const y = py(v);
        drawTick(a.left, y, a.left + 5, y);
        drawTick(a.right, y, a.right - 5, y);
      });
      ABUND_MINOR_TICKS.forEach((v) => {
        const y = py(v);
        drawTick(a.left, y, a.left + 3, y);
        drawTick(a.right, y, a.right - 3, y);
      });
      ctx.lineWidth = 1.3;
      ctx.strokeRect(a.left, a.top, a.right - a.left, a.bottom - a.top);

      // tick labels and axis titles
      ctx.fillStyle = "#000";
      const fmt = (v: number, d: number) => (v < 0 ? "\u2212" : "") + Math.abs(v).toFixed(d);
      if (p.col === 0) {
        ctx.font = `17px ${FONT}`;
        ctx.textAlign = "right";
        ctx.textBaseline = "alphabetic";
        ABUND_MAJOR_TICKS.forEach((v) => ctx.fillText(fmt(v, 1), a.left - 7.5, py(v) + 6.2));
        ctx.save();
        ctx.translate(21, (a.top + a.bottom) / 2);
        ctx.rotate(-Math.PI / 2);
        ctx.font = `24px ${FONT}`;
        ctx.textAlign = "center";
        ctx.textBaseline = "middle";
        ctx.fillText(ELEMENT_LABELS[p.row], 0, 0);
        ctx.restore();
      }
      if (p.row === 4) {
        ctx.font = `17px ${FONT}`;
        ctx.textAlign = "center";
        ctx.textBaseline = "alphabetic";
        FEH_MAJOR_TICKS.forEach((v) => ctx.fillText(fmt(v, 0), px(v), a.bottom + 23));
        ctx.font = `24px ${FONT}`;
        ctx.textBaseline = "middle";
        ctx.fillText("[Fe/H]", (a.left + a.right) / 2, 1009.5);
      }
      if (p.row === 0 && p.col === 0) {
        ctx.font = `26.5px ${FONT}`;
        ctx.textAlign = "center";
        ctx.textBaseline = "alphabetic";
        ctx.fillText(COLUMN_TITLES[0], (a.left + a.right) / 2, 26);
      }
      if (p.row === 0 && p.col === 1) {
        ctx.font = `26.5px ${FONT}`;
        ctx.textAlign = "center";
        ctx.textBaseline = "alphabetic";
        ctx.fillText(COLUMN_TITLES[1], 835, 26);
      }
      ctx.restore();
    },
  };
}

function buildConfig(p: PanelCfg): any {
  const left = COL_LEFT[p.col];
  const top = ROW_TOP0 + ROW_STEP * p.row;
  const datasets: any[] = [
    {
      label: p.second.label,
      data: toPoints(p.second.points),
      backgroundColor: p.second.color,
      borderWidth: 0,
      pointRadius: 2.45,
      pointHoverRadius: 2.45,
      clip: 0,
    },
  ];
  if (p.optical) {
    datasets.push({
      label: "Optical",
      data: toPoints(p.optical),
      backgroundColor: RED,
      borderWidth: 0,
      pointRadius: 2.45,
      pointHoverRadius: 2.45,
      clip: 0,
    });
  }
  return {
    type: "scatter",
    data: { datasets },
    options: {
      responsive: false,
      animation: false,
      devicePixelRatio: 1,
      events: [],
      layout: {
        padding: { left, top, right: W - left - PANEL_W, bottom: H - top - PANEL_H },
      },
      scales: {
        x: { type: "linear", min: -3, max: 0.5, display: false },
        y: { type: "linear", min: -0.7, max: 0.7, display: false },
      },
      plugins: { legend: { display: false }, tooltip: { enabled: false }, title: { display: false } },
    },
    plugins: [makeDeco(p)],
  };
}

const PANELS = buildPanels();

export default function App() {
  const refs = useRef<(HTMLCanvasElement | null)[]>([]);
  useEffect(() => {
    const charts: Chart[] = [];
    PANELS.forEach((p, i) => {
      const c = refs.current[i];
      if (c) charts.push(new Chart(c, buildConfig(p)));
    });
    return () => charts.forEach((ch) => ch.destroy());
  }, []);
  return (
    <div style={{ position: "absolute", left: 0, top: 0, width: W, height: H, background: "#fff", overflow: "hidden" }}>
      {PANELS.map((p, i) => (
        <canvas
          key={i}
          ref={(el) => {
            refs.current[i] = el;
          }}
          width={W}
          height={H}
          style={{ position: "absolute", left: 0, top: 0, width: W, height: H }}
        />
      ))}
    </div>
  );
}
